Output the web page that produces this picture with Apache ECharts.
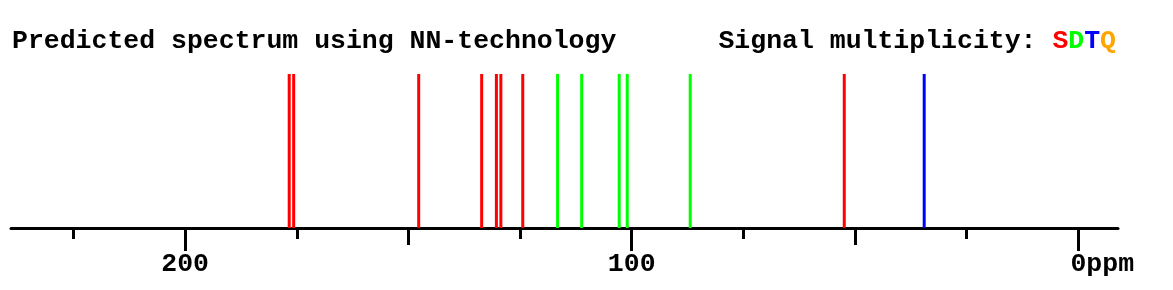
<!DOCTYPE html>
<html><head><meta charset="utf-8">
<script src="https://cdn.jsdelivr.net/npm/echarts@6/dist/echarts.min.js"></script>
<style>html,body{margin:0;padding:0;background:#fff}#c{width:1173px;height:290px}</style>
</head><body><div id="c"></div>
<script>
// Data
const shifts = [176.7, 175.7, 147.7, 133.6, 130.3, 129.3, 124.4, 116.6, 111.2, 102.8, 101.0, 86.9, 52.4, 34.5];
const multiplicity = ['S','S','S','S','S','S','S','D','D','D','D','D','S','T'];
const intensities = [1,1,1,1,1,1,1,1,1,1,1,1,1,1];
const minorTicks = [225, 175, 125, 75, 25];
const midTicks = [150, 50];
const majorTicks = [200, 100, 0];
const labelTicks = [200, 100, 0];
const multColors = {S:'#ff0000', D:'#00ff00', T:'#0000ff', Q:'#ffa500'};
const titleText = 'Predicted spectrum using NN-technology';
const legendText = 'Signal multiplicity: ';

const X_MIN = -8.9, X_MAX = 239.0;
const FONT = '"Liberation Mono", "Courier New", monospace';
const FS = 26.5;

function axis(ticks, len, showLine, labels) {
  return {
    type: 'value', position: 'bottom', offset: 0, min: X_MIN, max: X_MAX, inverse: true,
    splitLine: {show: false},
    axisLine: {show: showLine, onZero: false, lineStyle: {color: '#000', width: 3}},
    axisTick: {show: true, customValues: ticks, length: len, lineStyle: {color: '#000', width: 3}},
    axisLabel: labels ? {
      show: true, customValues: labels, margin: 23,
      fontFamily: FONT, fontSize: FS, fontWeight: 'bold', color: '#000',
      formatter: v => v === 0 ? '{pad|}{n|0}{u|ppm}' : '{n|' + v + '}',
      rich: {
        pad: {width: 48, fontFamily: FONT, fontSize: FS},
        n: {fontFamily: FONT, fontSize: FS, fontWeight: 'bold', color: '#000'},
        u: {fontFamily: FONT, fontSize: FS, fontWeight: 'bold', color: '#000'}
      }
    } : {show: false}
  };
}

const chart = echarts.init(document.getElementById('c'), null, {renderer: 'canvas'});
chart.setOption({
  animation: false,
  backgroundColor: '#fff',
  title: [
    {text: titleText, left: 7, top: 23,
     textStyle: {fontFamily: FONT, fontWeight: 'bold', fontSize: FS, color: '#000'}},
    {text: '{k|' + legendText + '}{s|S}{d|D}{t|T}{q|Q}', right: 52, top: 23,
     textStyle: {fontFamily: FONT, fontWeight: 'bold', fontSize: FS, color: '#000',
       rich: {
         k: {fontFamily: FONT, fontWeight: 'bold', fontSize: FS, color: '#000'},
         s: {fontFamily: FONT, fontWeight: 'bold', fontSize: FS, color: multColors.S},
         d: {fontFamily: FONT, fontWeight: 'bold', fontSize: FS, color: multColors.D},
         t: {fontFamily: FONT, fontWeight: 'bold', fontSize: FS, color: multColors.T},
         q: {fontFamily: FONT, fontWeight: 'bold', fontSize: FS, color: multColors.Q}
       }}}
  ],
  grid: {left: 11, right: 55, top: 74, bottom: 62, containLabel: false},
  xAxis: [
    axis(minorTicks, 11, true, null),
    axis(midTicks, 17, false, null),
    axis(majorTicks, 23, false, labelTicks)
  ],
  yAxis: {type: 'value', min: 0, max: 1, show: false},
  series: [{
    type: 'bar', xAxisIndex: 0, barWidth: 3,
    data: shifts.map((s, i) => ({value: [s, intensities[i]], itemStyle: {color: multColors[multiplicity[i]]}})),
    silent: true
  }]
});
</script></body></html>
